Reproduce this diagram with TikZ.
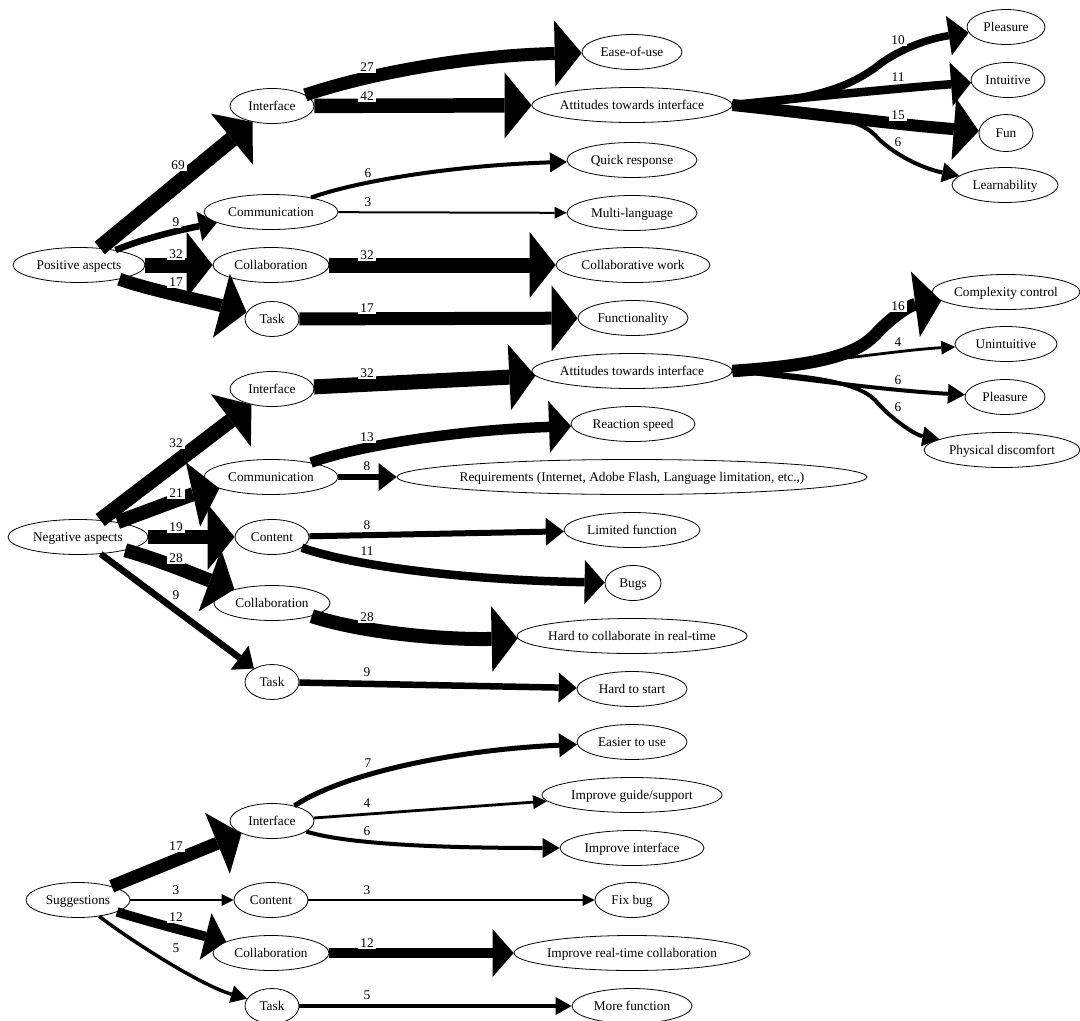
\documentclass[tikz,border=0pt]{standalone}
\usepackage{fontspec}
\setmainfont{Liberation Serif}
\usetikzlibrary{shapes.geometric,arrows.meta}
\newcommand\ellt[1]{\makebox[0pt]{#1}}
\begin{document}
\begin{tikzpicture}[x=1pt,y=-1pt,
  nd/.style={draw, ellipse, line width=0.8pt, inner sep=0pt, minimum height=35pt,
    font=\fontsize{13.3}{16}\selectfont, text height=8.8pt, text depth=0pt},
  lab/.style={fill=white, inner sep=2pt, font=\fontsize{13.3}{16}\selectfont,
    text height=8.8pt, text depth=0pt},
  ew/.style n args={3}{line width=#1pt, -{Triangle[length=#2pt,width=#3pt,line width=0pt]}},
  w3/.style={ew={2}{12}{12}},
  w4/.style={ew={2.8}{14}{14}},
  w5/.style={ew={3.5}{16}{18}},
  w6/.style={ew={4}{17}{20}},
  w7/.style={ew={5}{18}{24}},
  w8/.style={ew={6}{18}{28}},
  w9/.style={ew={6.5}{18}{30}},
  w10/.style={ew={7.5}{20}{40}},
  w11/.style={ew={8.5}{20}{44}},
  w12/.style={ew={9.5}{21}{48}},
  w13/.style={ew={10.5}{22}{52}},
  w15/.style={ew={12}{25}{62}},
  w16/.style={ew={12.5}{26}{66}},
  w17/.style={ew={13}{26}{66}},
  w19/.style={ew={13.5}{27}{66}},
  w21/.style={ew={14}{27}{66}},
  w27/.style={ew={13}{27}{66}},
  w28/.style={ew={14}{26}{66}},
  w32/.style={ew={15}{26}{66}},
  w42/.style={ew={14.5}{27}{66}},
  w69/.style={ew={16}{27}{66}}
]
\useasboundingbox (0,0) rectangle (1080,1021);

% ---------- Positive aspects ----------
\node[nd, minimum width=132pt] (pa) at (79,265) {\ellt{Positive aspects}};
\node[nd, minimum width=84pt] (if1) at (272,106) {\ellt{Interface}};
\node[nd, minimum width=134pt] (comm1) at (271,212) {\ellt{Communication}};
\node[nd, minimum width=116pt] (col1) at (271,265) {\ellt{Collaboration}};
\node[nd, minimum width=54pt] (task1) at (272,319) {\ellt{Task}};
\node[nd, minimum width=100pt] (ease) at (632,52) {\ellt{Ease-of-use}};
\node[nd, minimum width=200pt] (att1) at (632,105) {\ellt{Attitudes towards interface}};
\node[nd, minimum width=130pt] (quick) at (632,160) {\ellt{Quick response}};
\node[nd, minimum width=130pt] (multi) at (632,213) {\ellt{Multi-language}};
\node[nd, minimum width=154pt] (cwork) at (633,265) {\ellt{Collaborative work}};
\node[nd, minimum width=110pt] (func) at (633,318) {\ellt{Functionality}};
\node[nd, minimum width=78pt] (pl1) at (1006,27) {\ellt{Pleasure}};
\node[nd, minimum width=74pt] (intu) at (1008,80) {\ellt{Intuitive}};
\node[nd, minimum width=54pt, minimum height=37pt] (fun) at (1006,133) {\ellt{Fun}};
\node[nd, minimum width=106pt] (learn) at (1005,185) {\ellt{Learnability}};

% ---------- Negative aspects ----------
\node[nd, minimum width=140pt] (neg) at (78,537) {\ellt{Negative aspects}};
\node[nd, minimum width=84pt] (if2) at (272,389) {\ellt{Interface}};
\node[nd, minimum width=134pt] (comm2) at (271,477) {\ellt{Communication}};
\node[nd, minimum width=74pt] (cont2) at (272,537) {\ellt{Content}};
\node[nd, minimum width=116pt] (col2) at (272,603) {\ellt{Collaboration}};
\node[nd, minimum width=54pt] (task2) at (272,682) {\ellt{Task}};
\node[nd, minimum width=200pt] (att2) at (632,371) {\ellt{Attitudes towards interface}};
\node[nd, minimum width=124pt] (react) at (633,424) {\ellt{Reaction speed}};
\node[nd, minimum width=470pt] (req) at (632,477) {\ellt{Requirements (Internet, Adobe Flash, Language limitation, etc.,)}};
\node[nd, minimum width=136pt] (limf) at (632,530) {\ellt{Limited function}};
\node[nd, minimum width=56pt] (bugs) at (633,583) {\ellt{Bugs}};
\node[nd, minimum width=230pt] (hcol) at (632,636) {\ellt{Hard to collaborate in real-time}};
\node[nd, minimum width=110pt] (hstart) at (632,689) {\ellt{Hard to start}};
\node[nd, minimum width=148pt] (cc) at (1006,292) {\ellt{Complexity control}};
\node[nd, minimum width=102pt] (unint) at (1006,344) {\ellt{Unintuitive}};
\node[nd, minimum width=80pt] (pl2) at (1005,397) {\ellt{Pleasure}};
\node[nd, minimum width=156pt] (phys) at (1002,450) {\ellt{Physical discomfort}};

% ---------- Suggestions ----------
\node[nd, minimum width=104pt] (sug) at (78,900) {\ellt{Suggestions}};
\node[nd, minimum width=84pt] (if3) at (272,821) {\ellt{Interface}};
\node[nd, minimum width=74pt] (cont3) at (271,900) {\ellt{Content}};
\node[nd, minimum width=116pt] (col3) at (271,953) {\ellt{Collaboration}};
\node[nd, minimum width=54pt] (task3) at (272,1006) {\ellt{Task}};
\node[nd, minimum width=110pt] (easier) at (632,742) {\ellt{Easier to use}};
\node[nd, minimum width=180pt] (guide) at (632,795) {\ellt{Improve guide/support}};
\node[nd, minimum width=144pt] (impint) at (632,848) {\ellt{Improve interface}};
\node[nd, minimum width=74pt] (fixbug) at (632,900) {\ellt{Fix bug}};
\node[nd, minimum width=236pt] (imprt) at (632,953) {\ellt{Improve real-time collaboration}};
\node[nd, minimum width=120pt] (more) at (632,1006) {\ellt{More function}};

% ---------- edges: positive ----------
\draw[w69] (pa) -- (if1);
\draw[w9] (pa) .. controls (150,236) and (190,228) .. (comm1);
\draw[w32] (pa) -- (col1);
\draw[w17] (pa) .. controls (150,290) and (200,300) .. (task1);
\draw[w27] (if1) .. controls (380,70) and (480,55) .. (ease);
\draw[w42] (if1) -- (att1);
\draw[w10] (att1.east) .. controls (820,100) and (850,85) .. (875,68) .. controls (890,55) and (920,40) .. (pl1);
\draw[w11] (att1.east) .. controls (800,98) and (900,88) .. (intu);
\draw[w15] (att1.east) .. controls (800,112) and (900,125) .. (fun);
\draw[w6] (att1.east) .. controls (800,110) and (855,115) .. (875,135) .. controls (890,152) and (920,168) .. (learn);
\draw[w6] (comm1) .. controls (360,180) and (460,165) .. (quick);
\draw[w3] (comm1) -- (multi);
\draw[w32] (col1) -- (cwork);
\draw[w17] (task1) -- (func);

% ---------- edges: negative ----------
\draw[w32] (neg) -- (if2);
\draw[w21] (neg) .. controls (150,510) and (190,495) .. (comm2);
\draw[w19] (neg) -- (cont2);
\draw[w28] (neg) .. controls (160,560) and (195,575) .. (col2);
\draw[w9] (neg) -- (task2);
\draw[w32] (if2) -- (att2);
\draw[w13] (comm2) .. controls (360,445) and (460,430) .. (react);
\draw[w8] (comm2) -- (req);
\draw[w8] (cont2) -- (limf);
\draw[w11] (cont2) .. controls (350,565) and (460,580) .. (bugs);
\draw[w28] (col2) .. controls (360,632) and (440,640) .. (hcol);
\draw[w9] (task2) -- (hstart);
\draw[w16] (att2.east) .. controls (820,365) and (855,355) .. (875,335) .. controls (890,318) and (910,305) .. (cc);
\draw[w4] (att2.east) .. controls (800,365) and (900,350) .. (unint);
\draw[w6] (att2.east) .. controls (800,378) and (880,390) .. (pl2);
\draw[w6] (att2.east) .. controls (800,375) and (855,380) .. (875,400) .. controls (890,418) and (915,435) .. (phys);

% ---------- edges: suggestions ----------
\draw[w17] (sug) -- (if3);
\draw[w3] (sug) -- (cont3);
\draw[w12] (sug) .. controls (160,925) and (200,935) .. (col3);
\draw[w5] (sug) .. controls (130,940) and (200,985) .. (task3);
\draw[w7] (if3) .. controls (340,775) and (450,750) .. (easier);
\draw[w4] (if3) -- (guide);
\draw[w6] (if3) .. controls (350,845) and (450,848) .. (impint);
\draw[w3] (cont3) -- (fixbug);
\draw[w12] (col3) -- (imprt);
\draw[w5] (task3) -- (more);

% ---------- edge labels ----------
\node[lab] (l1) at (178,165) {69};
\node[lab] (l2) at (176,222) {9};
\node[lab] (l3) at (176,254) {32};
\node[lab] (l4) at (176,282) {17};
\node[lab] (l5) at (367,67) {27};
\node[lab] (l6) at (367,96) {42};
\node[lab] (l7) at (368,173) {6};
\node[lab] (l8) at (368,202) {3};
\node[lab] (l9) at (367,255) {32};
\node[lab] (l10) at (367,308) {17};
\node[lab] (l11) at (898,40) {10};
\node[lab] (l12) at (898,77) {11};
\node[lab] (l13) at (898,115) {15};
\node[lab] (l14) at (898,142) {6};

\node[lab] (l15) at (176,443) {32};
\node[lab] (l16) at (176,493) {21};
\node[lab] (l17) at (176,527) {19};
\node[lab] (l18) at (176,558) {28};
\node[lab] (l19) at (176,595) {9};
\node[lab] (l20) at (367,373) {32};
\node[lab] (l21) at (367,437) {13};
\node[lab] (l22) at (367,466) {8};
\node[lab] (l23) at (367,525) {8};
\node[lab] (l24) at (367,551) {11};
\node[lab] (l25) at (367,617) {28};
\node[lab] (l26) at (367,672) {9};
\node[lab] (l27) at (898,306) {16};
\node[lab] (l28) at (898,342) {4};
\node[lab] (l29) at (898,380) {6};
\node[lab] (l30) at (898,407) {6};

\node[lab] (l31) at (176,846) {17};
\node[lab] (l32) at (176,890) {3};
\node[lab] (l33) at (176,917) {12};
\node[lab] (l34) at (176,948) {5};
\node[lab] (l35) at (368,763) {7};
\node[lab] (l36) at (367,803) {4};
\node[lab] (l37) at (367,831) {6};
\node[lab] (l38) at (367,890) {3};
\node[lab] (l39) at (367,943) {12};
\node[lab] (l40) at (367,995) {5};
\end{tikzpicture}
\end{document}
